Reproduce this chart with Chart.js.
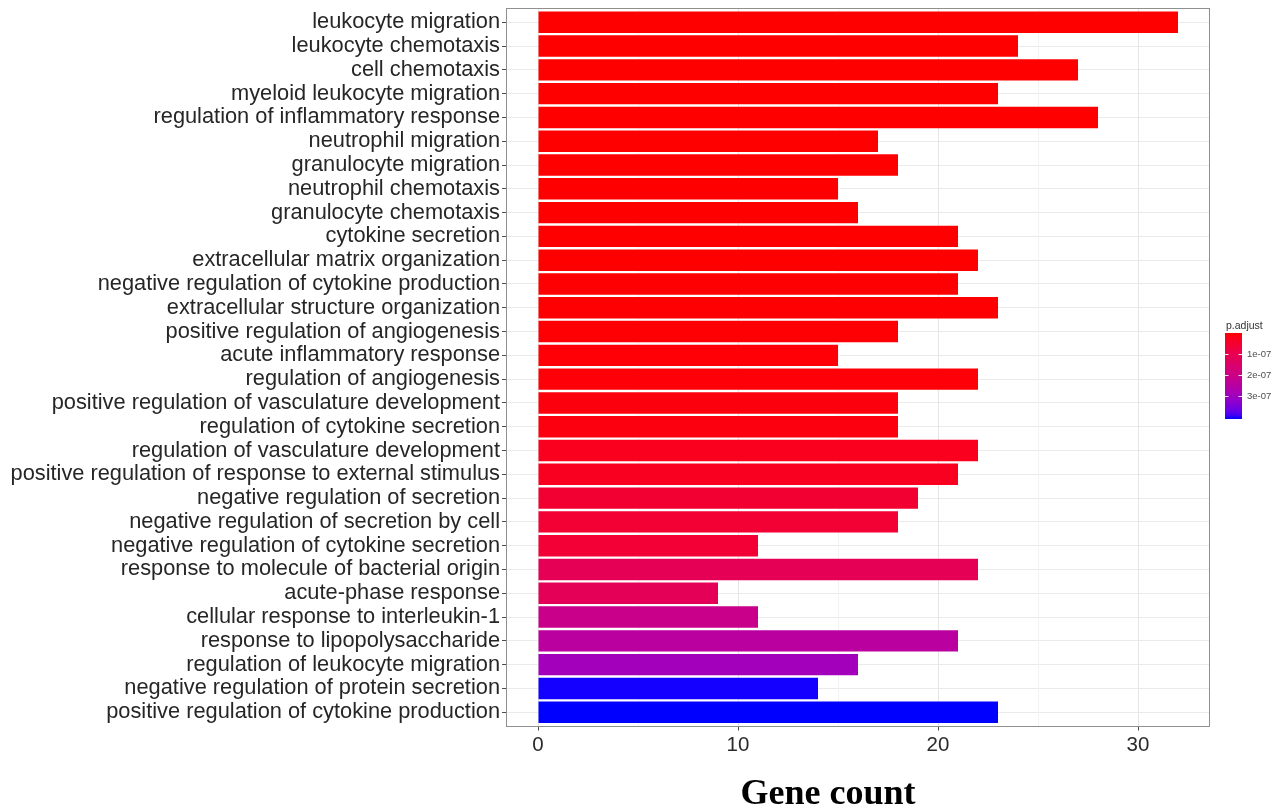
<!DOCTYPE html>
<html>
<head>
<meta charset="utf-8">
<script src="https://cdn.jsdelivr.net/npm/chart.js@4.4.1/dist/chart.umd.min.js"></script>
<style>
  html, body { margin: 0; padding: 0; background: #fff; }
  #wrap { width: 1281px; height: 808px; }
</style>
</head>
<body>
<div id="wrap"><canvas id="goChart" width="1281" height="808"></canvas></div>
<script>
// GO terms, top to bottom
const terms = [
  'leukocyte migration',
  'leukocyte chemotaxis',
  'cell chemotaxis',
  'myeloid leukocyte migration',
  'regulation of inflammatory response',
  'neutrophil migration',
  'granulocyte migration',
  'neutrophil chemotaxis',
  'granulocyte chemotaxis',
  'cytokine secretion',
  'extracellular matrix organization',
  'negative regulation of cytokine production',
  'extracellular structure organization',
  'positive regulation of angiogenesis',
  'acute inflammatory response',
  'regulation of angiogenesis',
  'positive regulation of vasculature development',
  'regulation of cytokine secretion',
  'regulation of vasculature development',
  'positive regulation of response to external stimulus',
  'negative regulation of secretion',
  'negative regulation of secretion by cell',
  'negative regulation of cytokine secretion',
  'response to molecule of bacterial origin',
  'acute-phase response',
  'cellular response to interleukin-1',
  'response to lipopolysaccharide',
  'regulation of leukocyte migration',
  'negative regulation of protein secretion',
  'positive regulation of cytokine production'
];
const geneCount = [32, 24, 27, 23, 28, 17, 18, 15, 16, 21, 22, 21, 23, 18, 15,
                   22, 18, 18, 22, 21, 19, 18, 11, 22, 9, 11, 21, 16, 14, 23];
const pAdjust = [2.1e-12, 3.5e-12, 5.0e-12, 8.2e-12, 1.1e-11, 6.3e-11, 1.2e-10, 1.9e-10,
                 4.4e-10, 7.1e-10, 9.0e-10, 1.3e-9, 1.4e-9, 2.6e-9, 3.1e-9, 4.5e-9,
                 8.9e-9, 9.6e-9, 2.5e-8, 2.7e-8, 5.4e-8, 5.6e-8, 5.9e-8, 1.12e-7,
                 1.15e-7, 2.08e-7, 2.46e-7, 2.95e-7, 4.08e-7, 4.10e-7];
const xTickValues = [0, 5, 10, 15, 20, 25, 30];
const xMajor = [0, 10, 20, 30];
const legendTicks = [1e-7, 2e-7, 3e-7];
const legendTickLabels = ['1e-07', '2e-07', '3e-07'];

const lowColor = [255, 0, 0];
const highColor = [0, 0, 255];

// ggplot-style gradient, interpolated in CIELAB
function toLin(c) { c /= 255; return c <= 0.04045 ? c / 12.92 : Math.pow((c + 0.055) / 1.055, 2.4); }
function fromLin(c) { const v = c <= 0.0031308 ? 12.92 * c : 1.055 * Math.pow(c, 1 / 2.4) - 0.055; return Math.round(Math.max(0, Math.min(1, v)) * 255); }
function rgbToLab(rgb) {
  const R = toLin(rgb[0]), G = toLin(rgb[1]), B = toLin(rgb[2]);
  const X = (0.4124564 * R + 0.3575761 * G + 0.1804375 * B) / 0.95047;
  const Y = (0.2126729 * R + 0.7151522 * G + 0.0721750 * B);
  const Z = (0.0193339 * R + 0.1191920 * G + 0.9503041 * B) / 1.08883;
  const f = t => t > 0.008856 ? Math.cbrt(t) : 7.787 * t + 16 / 116;
  const fx = f(X), fy = f(Y), fz = f(Z);
  return [116 * fy - 16, 500 * (fx - fy), 200 * (fy - fz)];
}
function labToRgb(lab) {
  const fy = (lab[0] + 16) / 116, fx = fy + lab[1] / 500, fz = fy - lab[2] / 200;
  const inv = t => t * t * t > 0.008856 ? t * t * t : (t - 16 / 116) / 7.787;
  const X = inv(fx) * 0.95047, Y = inv(fy), Z = inv(fz) * 1.08883;
  const R = 3.2404542 * X - 1.5371385 * Y - 0.4985314 * Z;
  const G = -0.9692660 * X + 1.8760108 * Y + 0.0415560 * Z;
  const B = 0.0556434 * X - 0.2040259 * Y + 1.0572252 * Z;
  return 'rgb(' + fromLin(R) + ',' + fromLin(G) + ',' + fromLin(B) + ')';
}
const labLow = rgbToLab(lowColor), labHigh = rgbToLab(highColor);
function ramp(t) {
  return labToRgb(labLow.map((v, k) => v + (labHigh[k] - v) * t));
}
const pMin = Math.min(...pAdjust), pMax = Math.max(...pAdjust);
const barColors = pAdjust.map(p => ramp((p - pMin) / (pMax - pMin)));

const panelTop = 8, panelBottom = 726.5;

const panelPlugin = {
  id: 'panel',
  afterDraw(chart) {
    const { ctx, chartArea } = chart;
    ctx.save();
    // panel border
    ctx.strokeStyle = '#8f8f8f';
    ctx.lineWidth = 1;
    ctx.strokeRect(Math.round(chartArea.left) + 0.5, Math.round(chartArea.top) + 0.5,
      Math.round(chartArea.right - chartArea.left) - 1, Math.round(chartArea.bottom - chartArea.top) - 1);

    // axis title
    ctx.fillStyle = '#000';
    ctx.font = 'bold 36px "Liberation Serif", "Times New Roman", serif';
    ctx.textAlign = 'center';
    ctx.textBaseline = 'alphabetic';
    ctx.fillText('Gene count', 828, 804);

    // colour bar legend
    const lx = 1225, ly = 333, lw = 17, lh = 86;
    ctx.fillStyle = '#333';
    ctx.font = '10.5px "Liberation Sans", Arial, sans-serif';
    ctx.textAlign = 'left';
    ctx.fillText('p.adjust', lx + 1, ly - 4);
    const grad = ctx.createLinearGradient(0, ly, 0, ly + lh);
    for (let s = 0; s <= 20; s++) grad.addColorStop(s / 20, ramp(s / 20));
    ctx.fillStyle = grad;
    ctx.fillRect(lx, ly, lw, lh);
    ctx.strokeStyle = 'rgba(255,255,255,0.9)';
    ctx.fillStyle = '#4d4d4d';
    ctx.font = '9.5px "Liberation Sans", Arial, sans-serif';
    ctx.textBaseline = 'middle';
    legendTicks.forEach((v, i) => {
      const y = Math.round(ly + lh * (v - pMin) / (pMax - pMin)) + 0.5;
      ctx.beginPath();
      ctx.moveTo(lx, y); ctx.lineTo(lx + 3.5, y);
      ctx.moveTo(lx + lw - 3.5, y); ctx.lineTo(lx + lw, y);
      ctx.stroke();
      ctx.fillText(legendTickLabels[i], lx + lw + 5, y);
    });
    ctx.restore();
  }
};

new Chart(document.getElementById('goChart'), {
  type: 'bar',
  plugins: [panelPlugin],
  data: {
    datasets: [{
      label: 'Gene count',
      data: geneCount.map((v, i) => ({ x: v, y: i })),
      backgroundColor: barColors,
      borderWidth: 0,
      barPercentage: 0.9,
      categoryPercentage: 1.0
    }]
  },
  options: {
    indexAxis: 'y',
    responsive: false,
    animation: false,
    events: [],
    layout: { padding: { top: panelTop, right: 71, bottom: 0, left: 0 } },
    plugins: {
      legend: { display: false },
      tooltip: { enabled: false },
      title: { display: false }
    },
    scales: {
      y: {
        type: 'linear',
        reverse: true,
        offset: false,
        min: -0.6,
        max: terms.length - 1 + 0.6,
        afterBuildTicks: (scale) => { scale.ticks = terms.map((_, i) => ({ value: i })); },
        afterFit: (scale) => {
          scale.width = 506;
          scale.paddingTop = 0;
          scale.paddingBottom = 0;
        },
        border: { display: false },
        grid: {
          offset: false,
          color: '#ebebeb',
          lineWidth: 1,
          tickColor: '#4d4d4d',
          tickLength: 4
        },
        ticks: {
          autoSkip: false,
          padding: 2,
          color: '#262626',
          font: { size: 21.8, family: '"Liberation Sans", Arial, sans-serif' },
          callback: (v) => terms[v]
        }
      },
      x: {
        type: 'linear',
        min: -1.6,
        max: 33.6,
        afterBuildTicks: (scale) => { scale.ticks = xTickValues.map(v => ({ value: v })); },
        afterFit: (scale) => {
          scale.height = 808 - panelBottom;
          scale.paddingLeft = 0;
          scale.paddingRight = 0;
        },
        border: { display: false },
        grid: {
          color: (c) => xMajor.includes(c.tick && c.tick.value) ? '#e6e6e6' : '#f2f2f2',
          lineWidth: 1,
          tickColor: (c) => xMajor.includes(c.tick && c.tick.value) ? '#4d4d4d' : 'rgba(0,0,0,0)',
          tickLength: 4
        },
        ticks: {
          autoSkip: false,
          maxRotation: 0,
          padding: 3,
          color: '#2b2b2b',
          font: { size: 20.5, family: '"Liberation Sans", Arial, sans-serif' },
          callback: (v) => xMajor.includes(v) ? String(v) : ''
        }
      }
    }
  }
});
</script>
</body>
</html>
